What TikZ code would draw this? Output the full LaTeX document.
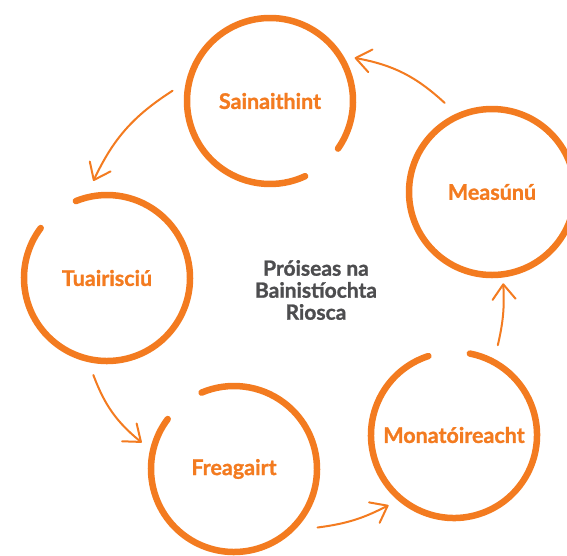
\documentclass[tikz,border=0pt]{standalone}
\usepackage{fontspec}
\setmainfont{Lato}[BoldFeatures={FakeBold=1.2}]
\usepackage{tikz}
\usetikzlibrary{arrows.meta,calc}
\definecolor{liteorange}{HTML}{F37B20}
\definecolor{darkgrey}{HTML}{4D4D4F}

\begin{document}
\begin{tikzpicture}[line cap=round,line join=round,x=1pt,y=1pt,
    ring/.style={line width=6.5pt,color=liteorange},
    flow/.style={line width=2pt,color=liteorange,-{Straight Barb[length=15pt,width=23pt,round]}},
    stage/.style={text=liteorange,font=\bfseries\fontsize{21.5}{22}\selectfont}]

    \useasboundingbox (0,0) rectangle (567,-555);
    \clip (0,0) rectangle (567,-555);

    \node[stage] (sain) at (270,-101) {Sainaithint};
    \node[stage] (meas) at (492,-192) {Measúnú};
    \node[stage] (tuai) at (107,-278) {Tuairisciú};
    \node[stage] (frea) at (234,-469) {Freagairt};
    \node[stage] (mona) at (454,-435) {Monatóireacht};

    \node[text=darkgrey,font=\bfseries\fontsize{21}{22}\selectfont,align=center] (title) at (316,-290) {Próiseas na\\Bainistíochta\\Riosca};

    % rings with a gap
    \draw[ring] ($(sain)+(-35:83)$) arc[start angle=-35,end angle=295,radius=83];
    \draw[ring] (meas) circle[radius=83];
    \draw[ring] ($(tuai)+(143:83)$) arc[start angle=143,end angle=472,radius=83];
    \draw[ring] ($(frea)+(143:83)$) arc[start angle=143,end angle=473,radius=83];
    \draw[ring] ($(mona)+(108:83)$) arc[start angle=108,end angle=439,radius=83];

    % arrows round the cycle
    \draw[flow] ($(meas)+(118:101)$) to[bend right=16] ($(sain)+(27:95)$);
    \draw[flow] ($(sain)+(174:98)$) to[bend right=16] ($(tuai)+(98:98)$);
    \draw[flow] ($(tuai)+(262:98)$) to[bend right=15] ($(frea)+(164:96)$);
    \draw[flow] ($(frea)+(-35:102)$) to[bend right=10] ($(mona)+(227:96)$);
    \draw[flow] ($(mona)+(64:100)$) to[bend right=8] ($(meas)+(277:92)$);
\end{tikzpicture}
\end{document}
